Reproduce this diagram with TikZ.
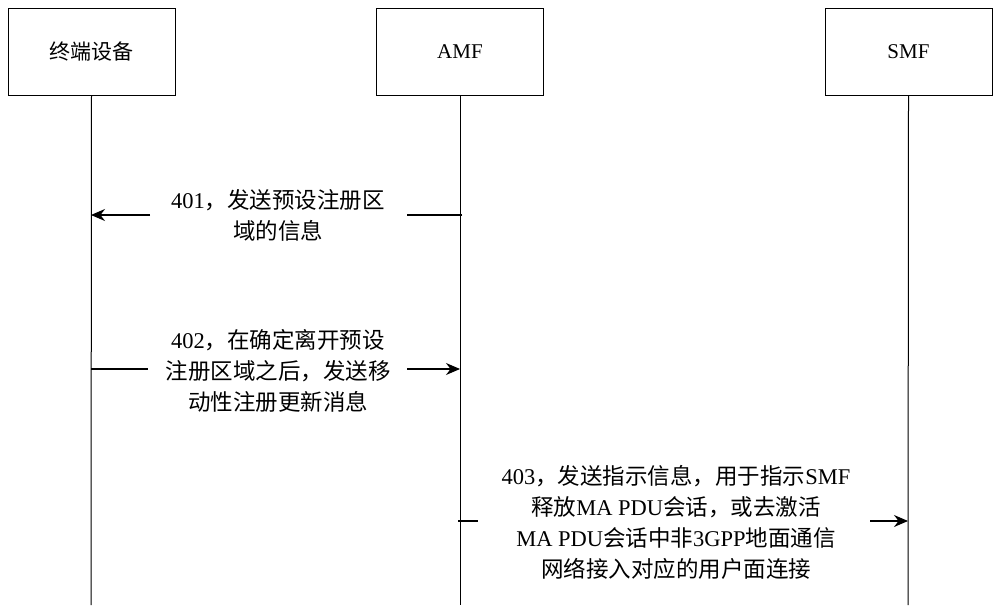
\documentclass[tikz,border=0pt]{standalone}
\usepackage{fontspec}
\setmainfont{Liberation Serif}
\newfontfamily\cjk{Noto Sans CJK SC}
\usetikzlibrary{arrows.meta}
\begin{document}
\begin{tikzpicture}[x=1pt,y=-1pt,
  ent/.style={draw,line width=0.8pt,minimum width=167pt,minimum height=87pt,font=\fontsize{21}{21}\selectfont},
  life/.style={line width=1pt},
  msg/.style={line width=1.2pt},
  arr/.style={line width=1.2pt,-{Stealth[length=14pt,width=12pt]}},
  lbl/.style={align=center,font=\fontsize{22.5}{31}\selectfont}]
\useasboundingbox (0,0) rectangle (1000,615);
\node[ent] (ue) at (91.5,51.5) {\cjk 终端设备};
\node[ent] (amf) at (460,51.5) {AMF};
\node[ent] (smf) at (908.5,51.5) {SMF};
\coordinate (ueE) at (91,605); \coordinate (amfE) at (460,605); \coordinate (smfE) at (908,605);
\draw[life] (ue.south) -- (ueE);
\draw[life] (amf.south) -- (amfE);
\draw[life] (smf.south) -- (smfE);
% 401
\node[lbl] (m1) at (278,215) {401{\cjk ，发送预设注册区}\\{\cjk 域的信息}};
\coordinate (a1) at (462,215); \coordinate (u1) at (91,215);
\draw[msg] (a1) -- (407,215);
\draw[arr] (150,215) -- (u1);
% 402
\node[lbl] (m2) at (278,371) {402{\cjk ，在确定离开预设}\\{\cjk 注册区域之后，发送移}\\{\cjk 动性注册更新消息}};
\coordinate (u2) at (91,369); \coordinate (a2) at (460,369);
\draw[msg] (u2) -- (148,369);
\draw[arr] (407,369) -- (a2);
% 403
\node[lbl] (m3) at (676,522) {403{\cjk ，发送指示信息，用于指示}SMF\\{\cjk 释放}MA PDU{\cjk 会话，或去激活}\\MA PDU{\cjk 会话中非}3GPP{\cjk 地面通信}\\{\cjk 网络接入对应的用户面连接}};
\coordinate (a3) at (458,521); \coordinate (s3) at (908,521);
\draw[msg] (a3) -- (478,521);
\draw[arr] (870,521) -- (s3);
\end{tikzpicture}
\end{document}
